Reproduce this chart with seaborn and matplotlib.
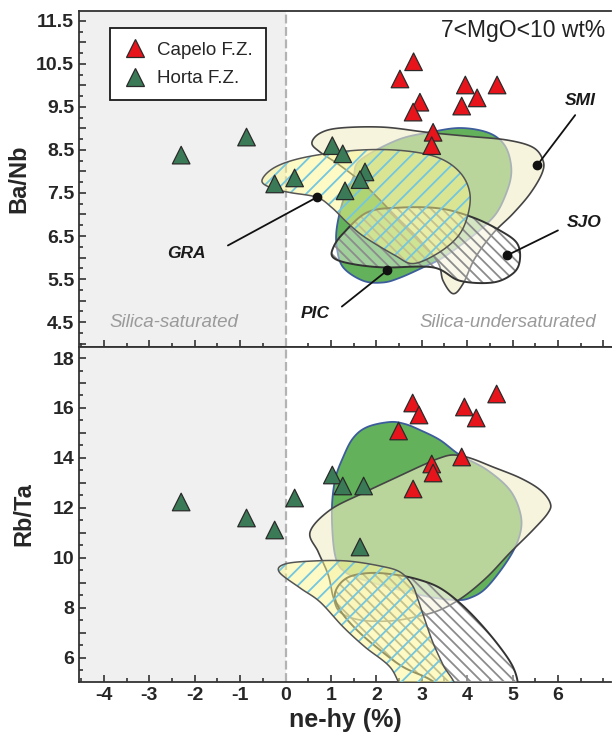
import numpy as np
import pandas as pd
import matplotlib
matplotlib.use("Agg")
import matplotlib.pyplot as plt
from matplotlib.lines import Line2D
from matplotlib.ticker import FixedLocator, MultipleLocator, FuncFormatter
import seaborn as sns

sns.set_theme(style="ticks")
plt.rcParams["font.family"] = ["Liberation Sans", "DejaVu Sans"]
plt.rcParams["hatch.linewidth"] = 1.3

# ---------------- sample data ----------------
capelo_nehy_ba = [2.82, 2.52, 3.96, 4.66, 4.22, 2.96, 3.88, 2.81, 3.25, 3.22]
capelo_banb = [10.55, 10.15, 10.01, 10.01, 9.71, 9.61, 9.52, 9.38, 8.91, 8.60]
horta_nehy_ba = [-2.30, -0.86, -0.24, 0.20, 1.03, 1.26, 1.75, 1.64, 1.31]
horta_banb = [8.38, 8.80, 7.71, 7.85, 8.60, 8.41, 7.99, 7.81, 7.55]

capelo_nehy_rb = [4.65, 2.80, 3.94, 2.94, 4.20, 2.49, 3.88, 3.22, 3.25, 2.81]
capelo_rbta = [16.56, 16.20, 16.04, 15.72, 15.60, 15.08, 14.04, 13.76, 13.40, 12.76]
horta_nehy_rb = [-2.30, -0.86, -0.24, 0.20, 1.03, 1.26, 1.72, 1.64]
horta_rbta = [12.24, 11.60, 11.12, 12.40, 13.32, 12.88, 12.88, 10.44]

# ---------------- island fields, Ba/Nb panel ----------------
pic_ba_x = [1.64, 2.46, 3.18, 3.84, 4.44, 4.79, 4.95, 4.95, 4.72, 4.44, 4.00, 3.47, 3.03, 2.52, 2.15, 1.71, 1.27, 1.13, 1.13, 1.27, 1.49]
pic_ba_y = [8.26, 8.73, 8.91, 9.01, 8.91, 8.66, 8.26, 7.79, 7.16, 6.79, 6.40, 6.00, 5.77, 5.53, 5.42, 5.46, 5.77, 6.23, 6.70, 7.33, 7.86]
smi_ba_x = [0.58, 0.76, 1.20, 2.15, 3.12, 4.00, 4.88, 5.45, 5.67, 5.65, 5.39, 5.01, 4.57, 4.17, 3.91, 3.69, 3.47, 3.36, 2.96, 2.41, 1.75, 1.20, 0.76]
smi_ba_y = [8.66, 8.89, 9.01, 9.03, 8.91, 8.82, 8.73, 8.56, 8.26, 7.96, 7.49, 7.02, 6.56, 5.98, 5.39, 5.16, 5.46, 5.88, 6.40, 6.98, 7.68, 8.14, 8.45]
sjo_ba_x = [1.05, 1.27, 1.80, 2.52, 3.40, 4.13, 4.72, 5.10, 5.16, 5.01, 4.57, 3.84, 3.25, 2.15, 1.42, 1.05]
sjo_ba_y = [6.23, 6.56, 7.05, 7.16, 7.14, 6.93, 6.63, 6.33, 5.93, 5.63, 5.42, 5.46, 5.77, 5.77, 5.86, 6.00]
gra_ba_x = [-0.52, -0.23, 0.43, 1.53, 2.52, 3.34, 3.84, 4.06, 4.00, 3.78, 3.34, 2.81, 2.41, 1.75, 1.38, 1.02, 0.69, 0.10, -0.30]
gra_ba_y = [7.79, 8.10, 8.33, 8.49, 8.49, 8.33, 7.98, 7.49, 6.93, 6.47, 6.09, 5.86, 6.05, 6.47, 6.79, 7.16, 7.40, 7.51, 7.61]

# ---------------- island fields, Rb/Ta panel ----------------
pic_rb_x = [1.27, 1.49, 1.80, 2.30, 2.63, 2.96, 3.40, 3.84, 4.44, 4.94, 5.17, 5.17, 4.94, 4.44, 4.06, 3.73, 3.18, 2.52, 1.86, 1.31, 1.09, 1.02, 1.09]
pic_rb_y = [14.04, 14.80, 15.24, 15.44, 15.36, 15.12, 14.72, 14.12, 13.52, 12.72, 11.80, 11.00, 10.04, 8.84, 8.40, 8.32, 8.44, 8.72, 9.04, 9.44, 10.12, 11.80, 13.12]
smi_rb_x = [0.54, 0.98, 1.71, 2.46, 3.03, 3.40, 3.69, 4.06, 4.57, 5.17, 5.61, 5.83, 5.78, 5.45, 4.94, 4.44, 3.91, 3.40, 2.85, 2.30, 1.64, 1.20, 1.05, 0.94, 0.72]
smi_rb_y = [11.04, 11.92, 12.60, 13.24, 13.72, 14.00, 14.12, 14.00, 13.64, 13.20, 12.72, 12.20, 11.80, 11.12, 10.20, 9.24, 8.44, 7.92, 7.64, 7.48, 7.52, 7.84, 8.44, 9.32, 10.24]
sjo_rb_x = [1.09, 1.35, 1.86, 2.46, 2.96, 3.40, 3.84, 4.28, 4.72, 5.01, 5.12, 5.06, 4.72, 4.06, 3.56, 3.12, 2.59, 2.08, 1.57, 1.20]
sjo_rb_y = [8.60, 9.20, 9.40, 9.32, 9.12, 8.80, 8.20, 7.40, 6.44, 5.64, 4.92, 4.32, 4.12, 4.32, 4.72, 5.20, 5.64, 6.32, 7.12, 7.92]
gra_rb_x = [-0.14, -0.01, 0.61, 1.35, 2.08, 2.52, 2.79, 2.92, 3.07, 3.25, 3.47, 3.73, 2.96, 2.59, 2.30, 1.75, 1.27, 0.76, 0.32]
gra_rb_y = [9.44, 9.76, 9.88, 9.88, 9.68, 9.44, 8.92, 8.32, 7.52, 6.60, 5.72, 4.72, 4.32, 4.72, 5.64, 6.44, 7.24, 8.24, 8.80]

suites = ["Capelo F.Z.", "Horta F.Z."]
palette = {"Capelo F.Z.": "#e8141c", "Horta F.Z.": "#3b7a57"}

top_df = pd.DataFrame({
    "ne_hy": capelo_nehy_ba + horta_nehy_ba,
    "Ba_Nb": capelo_banb + horta_banb,
    "suite": [suites[0]] * len(capelo_banb) + [suites[1]] * len(horta_banb),
})
bot_df = pd.DataFrame({
    "ne_hy": capelo_nehy_rb + horta_nehy_rb,
    "Rb_Ta": capelo_rbta + horta_rbta,
    "suite": [suites[0]] * len(capelo_rbta) + [suites[1]] * len(horta_rbta),
})

XLIM = (-4.55, 7.17)
INK = "#333333"


def smooth_closed(xs, ys, n=24):
    """Closed Catmull-Rom curve through the outline vertices."""
    P = np.column_stack([xs, ys]).astype(float)
    N = len(P)
    t = np.linspace(0, 1, n, endpoint=False)[:, None]
    segs = []
    for i in range(N):
        p0, p1, p2, p3 = P[i - 1], P[i], P[(i + 1) % N], P[(i + 2) % N]
        segs.append(0.5 * (2 * p1 + (-p0 + p2) * t
                           + (2 * p0 - 5 * p1 + 4 * p2 - p3) * t ** 2
                           + (-p0 + 3 * p1 - 3 * p2 + p3) * t ** 3))
    return np.vstack(segs)


def draw_field(ax, xs, ys, face, alpha, edge, lw, z, hatch=None, hcolor=None):
    pts = smooth_closed(xs, ys)
    ax.fill(pts[:, 0], pts[:, 1], facecolor=face, alpha=alpha, edgecolor="none", zorder=z)
    if hatch:
        ax.fill(pts[:, 0], pts[:, 1], facecolor="none", edgecolor=hcolor,
                hatch=hatch, linewidth=0, zorder=z + 0.1)
    ax.fill(pts[:, 0], pts[:, 1], facecolor="none", edgecolor=edge, linewidth=lw,
            zorder=z + 0.2)


def draw_fields(ax, pic, smi, sjo, gra):
    draw_field(ax, *pic, face="#63b25b", alpha=1.0, edge="#3d5c9c", lw=1.3, z=2)
    draw_field(ax, *smi, face="#f3eec8", alpha=0.6, edge="#444444", lw=1.2, z=3)
    draw_field(ax, *sjo, face="#ffffff", alpha=0.4, edge="#333333", lw=1.4, z=4,
               hatch="\\\\\\", hcolor="#8c8c8c")
    draw_field(ax, *gra, face="#fcf68e", alpha=0.5, edge="#555555", lw=1.1, z=5,
               hatch="//", hcolor="#72c6e0")


def style_axis(ax):
    ax.set_xlim(*XLIM)
    ax.axvspan(XLIM[0], 0, color="#f0f0f0", zorder=0, lw=0)
    ax.axvline(0, color="#b3b3b3", ls=(0, (4, 1.6)), lw=1.6, zorder=1)
    ax.set_facecolor("white")
    for side in ["left", "bottom", "top"]:
        ax.spines[side].set_color(INK)
        ax.spines[side].set_linewidth(1.3)
    ax.spines["right"].set_visible(False)
    ax.xaxis.set_major_locator(MultipleLocator(1))
    ax.xaxis.set_minor_locator(MultipleLocator(0.5))
    ax.tick_params(which="both", direction="in", color=INK, width=1.2,
                   top=False, right=False)
    ax.tick_params(which="major", length=5)
    ax.tick_params(which="minor", length=3)
    for lab in ax.get_xticklabels() + ax.get_yticklabels():
        lab.set_fontweight("bold")


fig = plt.figure(figsize=(6.13, 7.33), dpi=100)
ax1 = fig.add_axes([0.1289, 0.5266, 0.8679, 0.4584])
ax2 = fig.add_axes([0.1289, 0.0696, 0.8679, 0.4570])

# ---------------- Ba/Nb panel ----------------
ax1.set_ylim(3.92, 11.73)
draw_fields(ax1, (pic_ba_x, pic_ba_y), (smi_ba_x, smi_ba_y),
            (sjo_ba_x, sjo_ba_y), (gra_ba_x, gra_ba_y))
sns.scatterplot(data=top_df, x="ne_hy", y="Ba_Nb", hue="suite", palette=palette,
                marker="^", s=160, edgecolor="#2a2a2a", linewidth=0.9,
                legend=False, zorder=10, ax=ax1)
ax1.yaxis.set_major_locator(FixedLocator(np.arange(4.0, 11.51, 0.5)))
ax1.yaxis.set_minor_locator(MultipleLocator(0.25))
ax1.yaxis.set_major_formatter(FuncFormatter(
    lambda v, p: f"{v:.1f}" if abs((v - 0.5) % 1) < 1e-6 else ""))
ax1.set_xlabel("")
ax1.set_ylabel("Ba/Nb", fontsize=17, fontweight="bold", labelpad=4)
ax1.tick_params(axis="x", labelbottom=False)
ax1.tick_params(axis="y", labelsize=14)
style_axis(ax1)

# field labels with leader lines
labels_ba = [("GRA", -2.19, 6.09, -1.27, 6.28, 0.69, 7.40),
             ("PIC", 0.65, 4.69, 1.24, 4.86, 2.24, 5.70),
             ("SMI", 6.49, 9.66, 6.38, 9.31, 5.54, 8.14),
             ("SJO", 6.57, 6.81, 6.00, 6.63, 4.88, 6.05)]
for name, tx, ty, lx, ly, dx, dy in labels_ba:
    ax1.text(tx, ty, name, ha="center", va="center", fontsize=12.5,
             fontweight="bold", fontstyle="italic", color="#1a1a1a", zorder=12)
    ax1.plot([lx, dx], [ly, dy], color="#111111", lw=1.3, zorder=11)
    ax1.plot(dx, dy, "o", color="#111111", ms=6, zorder=11)

ax1.text(-2.46, 4.5, "Silica-saturated", ha="center", va="center",
         fontsize=13.5, fontstyle="italic", color="#9a9a9a", zorder=12)
ax1.text(4.9, 4.5, "Silica-undersaturated", ha="center", va="center",
         fontsize=13.5, fontstyle="italic", color="#9a9a9a", zorder=12)
ax1.text(0.989, 0.943, "7<MgO<10 wt%", transform=ax1.transAxes, ha="right",
         va="center", fontsize=16.5, color="#222222", zorder=12)

handles = [Line2D([], [], ls="", marker="^", markersize=13,
                  markerfacecolor=palette[s], markeredgecolor="#2a2a2a",
                  markeredgewidth=0.9, label=s) for s in suites]
leg = ax1.legend(handles=handles, loc="upper left", bbox_to_anchor=(0.058, 0.948),
                 frameon=True, fancybox=False, fontsize=13.5, borderpad=0.7,
                 labelspacing=0.6, handletextpad=0.5, handlelength=1.3,
                 borderaxespad=0)
leg.get_frame().set_edgecolor("#1a1a1a")
leg.get_frame().set_linewidth(1.3)
leg.get_frame().set_facecolor("white")
leg.get_frame().set_alpha(1.0)
leg.set_zorder(20)

# ---------------- Rb/Ta panel ----------------
ax2.set_ylim(5.04, 18.44)
draw_fields(ax2, (pic_rb_x, pic_rb_y), (smi_rb_x, smi_rb_y),
            (sjo_rb_x, sjo_rb_y), (gra_rb_x, gra_rb_y))
sns.scatterplot(data=bot_df, x="ne_hy", y="Rb_Ta", hue="suite", palette=palette,
                marker="^", s=160, edgecolor="#2a2a2a", linewidth=0.9,
                legend=False, zorder=10, ax=ax2)
ax2.yaxis.set_major_locator(FixedLocator(np.arange(6, 18.1, 1)))
ax2.yaxis.set_minor_locator(MultipleLocator(0.5))
ax2.yaxis.set_major_formatter(FuncFormatter(
    lambda v, p: f"{int(round(v))}" if int(round(v)) % 2 == 0 else ""))
ax2.xaxis.set_major_formatter(FuncFormatter(lambda v, p: f"{int(round(v))}"))
ax2.set_xlabel("ne-hy (%)", fontsize=18, fontweight="bold", labelpad=3)
ax2.set_ylabel("Rb/Ta", fontsize=17, fontweight="bold", labelpad=12)
ax2.tick_params(axis="both", labelsize=14)
style_axis(ax2)
ax2.set_xticks(np.arange(-4, 6.1, 1))

fig.savefig("out.png", dpi=100)
